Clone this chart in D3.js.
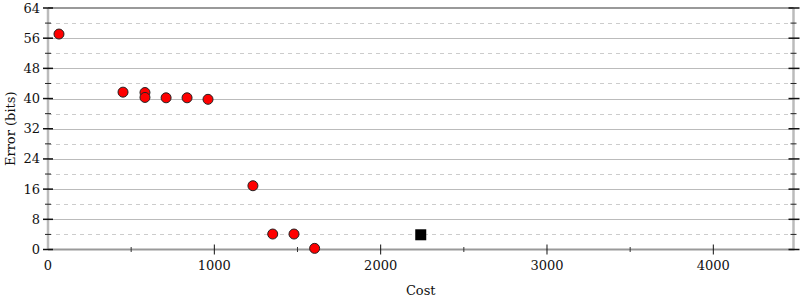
<!DOCTYPE html>
<html><head><meta charset="utf-8">
<script src="https://cdn.jsdelivr.net/npm/d3@7"></script>
<style>body{margin:0;background:#fff}svg{display:block}text{font-family:"DejaVu Serif",serif;}</style>
</head><body>
<svg id="c" width="800" height="300"></svg>
<script>
const costs = [66, 451, 583, 583, 710, 836, 962, 1232, 1351, 1479, 1603];
const errors = [57.1, 41.7, 41.6, 40.3, 40.2, 40.2, 39.8, 16.9, 4.1, 4.1, 0.3];
const bestCost = [2241];
const bestError = [3.9];
const xTicks = [0, 1000, 2000, 3000, 4000];
const xMinor = [500, 1500, 2500, 3500];
const yTicks = [0, 8, 16, 24, 32, 40, 48, 56, 64];
const yMinor = [4, 12, 20, 28, 36, 44, 52, 60];

const svg = d3.select("#c");
const L = 48, R = 793.5, T = 8, B = 249.5;
const x = d3.scaleLinear().domain([0, 4482]).range([L, R]);
const y = d3.scaleLinear().domain([0, 64]).range([B, T]);

// grid
svg.append("g").selectAll("line").data(yTicks.slice(1, -1)).join("line")
  .attr("x1", L).attr("x2", R).attr("y1", d => Math.round(y(d)) + 0.5).attr("y2", d => Math.round(y(d)) + 0.5)
  .attr("stroke", "#bbb").attr("stroke-width", 1);
svg.append("g").selectAll("line").data(yMinor).join("line")
  .attr("x1", L).attr("x2", R).attr("y1", d => Math.round(y(d)) + 0.5).attr("y2", d => Math.round(y(d)) + 0.5)
  .attr("stroke", "#ccc").attr("stroke-width", 1).attr("stroke-dasharray", "4,4");

// frame
svg.append("line").attr("x1", L).attr("x2", R).attr("y1", T).attr("y2", T).attr("stroke", "#999").attr("stroke-width", 2);
svg.append("line").attr("x1", L).attr("x2", L).attr("y1", T).attr("y2", B).attr("stroke", "#bbb").attr("stroke-width", 2.5);
svg.append("line").attr("x1", R).attr("x2", R).attr("y1", T).attr("y2", B).attr("stroke", "#bbb").attr("stroke-width", 2.5);
svg.append("line").attr("x1", L).attr("x2", R + 1).attr("y1", B).attr("y2", B).attr("stroke", "#999").attr("stroke-width", 2);

// y ticks
const yt = svg.append("g");
yt.selectAll(".lm").data(yTicks).join("line").attr("x1", L - 5).attr("x2", L + 5)
  .attr("y1", d => y(d)).attr("y2", d => y(d)).attr("stroke", "#111").attr("stroke-width", 1.5);
yt.selectAll(".ln").data(yMinor).join("line").attr("x1", L - 3).attr("x2", L + 3)
  .attr("y1", d => y(d)).attr("y2", d => y(d)).attr("stroke", "#222").attr("stroke-width", 1);
yt.selectAll(".rm").data(yTicks).join("line").attr("x1", R - 5).attr("x2", R + 6)
  .attr("y1", d => y(d)).attr("y2", d => y(d)).attr("stroke", "#111").attr("stroke-width", 1.5);
yt.selectAll(".rn").data(yMinor).join("line").attr("x1", R - 3).attr("x2", R + 3)
  .attr("y1", d => y(d)).attr("y2", d => y(d)).attr("stroke", "#222").attr("stroke-width", 1);
yt.selectAll("text").data(yTicks).join("text").attr("x", L - 8).attr("y", d => y(d)).attr("dy", "0.35em")
  .attr("text-anchor", "end").attr("font-size", 13).attr("fill", "#111").text(d => d);

// x ticks
const xt = svg.append("g");
xt.selectAll(".m").data(xTicks.slice(1)).join("line").attr("x1", d => x(d)).attr("x2", d => x(d))
  .attr("y1", B - 5).attr("y2", B + 5).attr("stroke", "#111").attr("stroke-width", 1);
xt.selectAll(".n").data(xMinor).join("line").attr("x1", d => x(d)).attr("x2", d => x(d))
  .attr("y1", B - 2.5).attr("y2", B + 2.5).attr("stroke", "#333").attr("stroke-width", 1);
xt.selectAll("text").data(xTicks).join("text").attr("x", d => x(d)).attr("y", 270)
  .attr("text-anchor", "middle").attr("font-size", 13).attr("fill", "#111").text(d => d);

// labels
svg.append("text").attr("x", (L + R) / 2).attr("y", 295).attr("text-anchor", "middle")
  .attr("font-size", 13).attr("fill", "#111").text("Cost");
svg.append("text").attr("transform", `translate(15,${(T + B) / 2}) rotate(-90)`).attr("text-anchor", "middle")
  .attr("font-size", 13).attr("fill", "#111").text("Error (bits)");

// points
svg.append("g").selectAll("circle").data(costs.map((c, i) => [c, errors[i]])).join("circle")
  .attr("cx", d => x(d[0])).attr("cy", d => y(d[1])).attr("r", 5)
  .attr("fill", "#f00").attr("stroke", "#222").attr("stroke-width", 1);
svg.append("g").selectAll("rect").data(bestCost.map((c, i) => [c, bestError[i]])).join("rect")
  .attr("x", d => x(d[0]) - 5.5).attr("y", d => y(d[1]) - 5.5).attr("width", 11).attr("height", 11)
  .attr("fill", "#000");
</script>
</body></html>
